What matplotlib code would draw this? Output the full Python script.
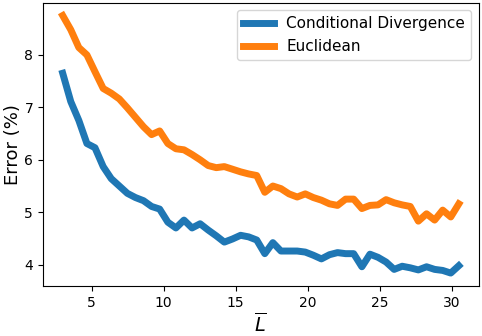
import matplotlib
matplotlib.use("Agg")
import matplotlib.pyplot as plt

# average length L-bar (shared x for both curves)
L_bar = [3.00, 3.56, 4.12, 4.68, 5.24, 5.81, 6.37, 6.93, 7.49, 8.05,
         8.61, 9.17, 9.73, 10.30, 10.86, 11.42, 11.98, 12.54, 13.10, 13.66,
         14.22, 14.79, 15.35, 15.91, 16.47, 17.03, 17.59, 18.15, 18.71, 19.28,
         19.84, 20.40, 20.96, 21.52, 22.08, 22.64, 23.20, 23.77, 24.33, 24.89,
         25.45, 26.01, 26.57, 27.13, 27.69, 28.26, 28.82, 29.38, 29.94, 30.50]

# error (%) per method
err_conditional = [7.65, 7.11, 6.75, 6.31, 6.23, 5.87, 5.64, 5.50, 5.36, 5.28,
                   5.22, 5.11, 5.06, 4.81, 4.70, 4.85, 4.70, 4.78, 4.66, 4.55,
                   4.43, 4.49, 4.56, 4.53, 4.47, 4.21, 4.42, 4.26, 4.26, 4.26,
                   4.24, 4.18, 4.11, 4.19, 4.23, 4.21, 4.21, 3.96, 4.20, 4.14,
                   4.05, 3.91, 3.97, 3.94, 3.90, 3.96, 3.91, 3.89, 3.84, 3.98]

err_euclidean = [8.75, 8.48, 8.14, 8.00, 7.68, 7.36, 7.27, 7.16, 6.99, 6.81,
                 6.63, 6.48, 6.55, 6.31, 6.21, 6.19, 6.10, 6.00, 5.89, 5.85,
                 5.87, 5.82, 5.77, 5.73, 5.70, 5.38, 5.50, 5.45, 5.35, 5.29,
                 5.35, 5.28, 5.23, 5.16, 5.13, 5.25, 5.25, 5.07, 5.13, 5.14,
                 5.24, 5.18, 5.14, 5.11, 4.83, 4.97, 4.85, 5.04, 4.91, 5.16]

fig, ax = plt.subplots(figsize=(4.82, 3.36), dpi=100)
fig.subplots_adjust(left=0.089, right=0.993, top=0.992, bottom=0.149)

ax.plot(L_bar, err_conditional, color='#1f77b4', linewidth=5, label='Conditional Divergence')
ax.plot(L_bar, err_euclidean, color='#ff7f0e', linewidth=5, label='Euclidean')

ax.set_xlabel(r'$\overline{L}$', fontsize=14, labelpad=2)
ax.set_ylabel('Error (%)', fontsize=13, labelpad=2)
ax.legend(loc='upper right', fontsize=11)

fig.savefig('out.png', dpi=100)
